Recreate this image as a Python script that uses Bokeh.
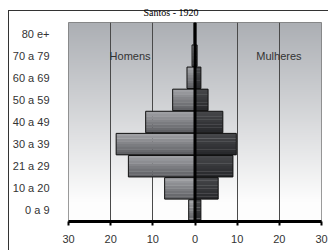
import numpy as np
from bokeh.plotting import figure
from bokeh.models import FactorRange, FixedTicker, Span, Label, Title
from bokeh.embed import file_html
from bokeh.resources import INLINE

# ---- data ----
title_text = "Santos - 1920"
categories = ["0 a 9", "10 a 20", "21 a 29", "30 a 39", "40 a 49",
              "50 a 59", "60 a 69", "70 a 79", "80 e+"]
homens = [1.5, 7.2, 15.8, 18.7, 11.7, 5.3, 1.9, 0.7, 0.2]
mulheres = [1.4, 5.5, 9.0, 9.8, 6.6, 3.1, 1.4, 0.5, 0.2]
x_ticks = [-30, -20, -10, 0, 10, 20, 30]
x_tick_labels = ["30", "20", "10", "0", "10", "20", "30"]
label_homens = "Homens"
label_mulheres = "Mulheres"

p = figure(width=328, height=250, output_backend="svg", toolbar_location=None,
           x_range=(-30, 30), y_range=FactorRange(*categories),
           min_border_left=68, min_border_right=7, min_border_top=21, min_border_bottom=29)
p.background_fill_color = "white"
p.border_fill_color = None
# outer chart border: left and top edges (the rest runs off the window)
p.styles = {
    "background-color": "white",
    "background-image": "linear-gradient(#333333, #333333), linear-gradient(#333333, #333333)",
    "background-position": "8px 10px, 8px 10px",
    "background-size": "1px 100%, 100% 1px",
    "background-repeat": "no-repeat",
}
p.outline_line_color = "#7a7a7a"
p.outline_line_width = 1

# title (cut off at the top in the reference; kept small and visible here)
p.title = Title(text=title_text, align="left", offset=75, standoff=9,
                text_font="Liberation Serif", text_font_size="10px",
                text_font_style="normal", text_color="black")

# background gradient of the plot area (row 0 = bottom)
H = 200
t = np.linspace(0, 1, H)  # 0 bottom -> 1 top
top = np.array([172, 175, 180], dtype=float)
bot = np.array([253, 253, 253], dtype=float)
f = np.clip((t - 0.1) / 0.9, 0, 1)
img = np.zeros((H, 1), dtype=np.uint32)
view = img.view(dtype=np.uint8).reshape((H, 1, 4))
for i in range(H):
    c = bot + (top - bot) * f[i]
    view[i, 0, 0:3] = c.astype(np.uint8)
    view[i, 0, 3] = 255
p.image_rgba(image=[img], x=-30, y=0, dw=60, dh=len(categories), level="image")

# grid
p.xgrid.ticker = FixedTicker(ticks=[-20, -10, 10, 20])
p.xgrid.grid_line_color = "#4a4a4a"
p.xgrid.grid_line_width = 1
p.ygrid.grid_line_color = None

# bars with vertical gradient (slices) + outline
K = 8
men_top = np.array([164, 165, 169.0]); men_bot = np.array([92, 93, 97.0])
wom_top = np.array([72, 73, 76.0]); wom_bot = np.array([38, 39, 42.0])
ys = [i + 0.5 for i in range(len(categories))]
bh = 0.97
for k in range(K):
    frac = (k + 0.5) / K  # 0 = top
    off = bh / 2 - bh * frac
    cm = men_top + (men_bot - men_top) * frac
    cw = wom_top + (wom_bot - wom_top) * frac
    p.hbar(y=[y + off for y in ys], height=bh / K + 0.01, left=[-v for v in homens], right=0,
           fill_color="#%02x%02x%02x" % tuple(int(c) for c in cm), line_color=None)
    p.hbar(y=[y + off for y in ys], height=bh / K + 0.01, left=0, right=mulheres,
           fill_color="#%02x%02x%02x" % tuple(int(c) for c in cw), line_color=None)
p.hbar(y=ys, height=bh, left=[-v for v in homens], right=0, fill_color=None,
       line_color="#111111", line_width=1)
p.hbar(y=ys, height=bh, left=0, right=mulheres, fill_color=None,
       line_color="#111111", line_width=1)

# zero line
p.add_layout(Span(location=0, dimension="height", line_color="black", line_width=3))

# axes
p.xaxis.ticker = FixedTicker(ticks=x_ticks)
p.xaxis.major_label_overrides = {t_: l for t_, l in zip(x_ticks, x_tick_labels)}
p.xaxis.axis_line_width = 3
p.xaxis.axis_line_color = "black"
p.xaxis.major_tick_in = 0
p.xaxis.major_tick_out = 4
p.xaxis.major_tick_line_width = 2
p.xaxis.major_tick_line_color = "black"
p.xaxis.minor_tick_line_color = None
p.xaxis.major_label_standoff = 9
p.xaxis.major_label_text_font = "Liberation Sans"
p.xaxis.major_label_text_font_size = "11px"
p.xaxis.major_label_text_color = "#333333"

p.yaxis.axis_line_color = None
p.yaxis.major_tick_line_color = None
p.yaxis.minor_tick_line_color = None
p.yaxis.major_label_standoff = 13
p.yaxis.major_label_text_font = "Liberation Sans"
p.yaxis.major_label_text_font_size = "11px"
p.yaxis.major_label_text_color = "#333333"

# text labels
p.add_layout(Label(x=-15.4, y=7.5, text=label_homens, text_align="center", text_baseline="middle",
                   text_font="Liberation Sans", text_font_size="11px", text_color="#333333"))
p.add_layout(Label(x=19.9, y=7.5, text=label_mulheres, text_align="center", text_baseline="middle",
                   text_font="Liberation Sans", text_font_size="11px", text_color="#333333"))

open("out.html", "w").write(file_html(p, INLINE))
